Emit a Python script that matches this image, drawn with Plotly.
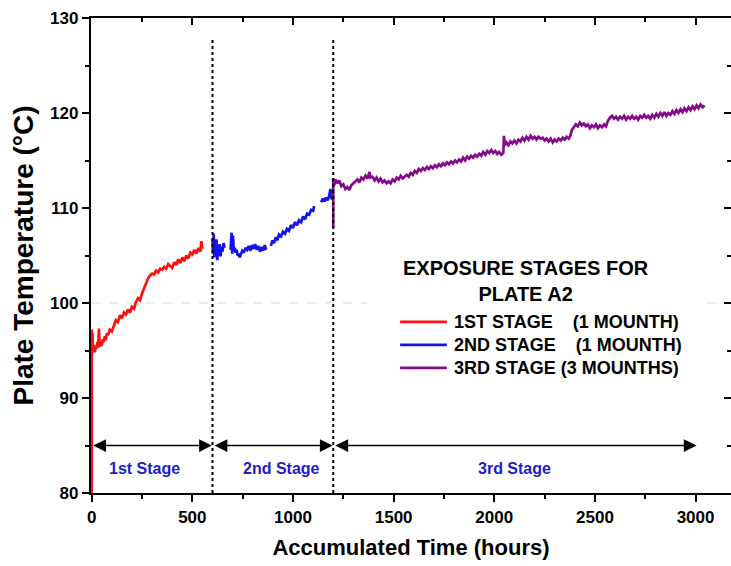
import plotly.graph_objects as go

# ---------------- data ----------------
stage1_hours = [0, 0, 2, 4, 6, 8, 10, 13, 16, 20, 24, 28, 32, 36, 40, 45, 50, 55, 60, 65,
                70, 75, 80, 90, 100, 110, 120, 130, 140, 150, 160, 170, 180, 190, 200, 210, 220, 230, 240, 250,
                260, 270, 280, 290, 300, 310, 320, 330, 340, 350, 360, 370, 380, 390, 400, 410, 420, 430, 440, 450,
                460, 470, 480, 490, 500, 510, 520, 530, 540, 545, 550]
stage1_temp = [80, 97.2, 94.6, 96.8, 94.9, 95.6, 95.1, 95.4, 94.8, 95.5, 95.2, 95.9, 95.3, 97.3, 95.4, 95.8, 95.5, 96.2, 95.9, 96.5,
               96.1, 96.8, 96.6, 97.2, 97.0, 97.6, 98.2, 98.0, 98.7, 98.4, 99.0, 98.8, 99.3, 99.0, 99.6, 99.4, 100.1, 100.5, 100.3, 101.0,
               101.6, 102.1, 102.6, 102.9, 103.1, 103.0, 103.4, 103.2, 103.6, 103.5, 103.8, 103.6, 104.1, 103.9, 103.7, 104.3, 104.0, 104.6, 104.2, 104.8,
               104.4, 105.0, 104.7, 105.3, 105.1, 105.6, 105.2, 105.8, 105.4, 106.5, 105.7]

stage2_hours = [600, 603, 606, 609, 612, 616, 620, 624, 628, 632, 636, 640, 645, 650, 655, 660, None,
                690, 695, 698, 702, 706, 710, 715, 720, 725, 730, 735, 740, 748, 756, 764, 772, 780, 788, 796,
                804, 812, 820, 828, 836, 844, 852, 860, 866, None,
                890, 898, 906, 914, 922, 930, 940, 950, 960, 970, 980, 990, 1000, 1010, 1020, 1030, 1040, 1050, 1060, 1070,
                1080, 1090, 1100, 1105, None,
                1140, 1148, 1156, 1164, 1172, 1180, 1186, 1192, 1198]
stage2_temp = [106.8, 105.2, 107.3, 104.8, 106.4, 105.0, 106.7, 104.5, 106.0, 105.3, 106.2, 104.9, 105.9, 105.4, 106.3, 105.8, None,
               105.6, 107.4, 105.2, 107.1, 105.5, 105.8, 105.3, 105.6, 105.0, 105.2, 104.8, 105.1, 105.5, 105.3, 105.8, 105.6, 106.0, 105.5, 106.1,
               105.7, 106.2, 105.6, 106.0, 105.4, 105.9, 105.5, 106.1, 105.6, None,
               106.0, 106.6, 106.3, 106.9, 106.6, 107.2, 107.0, 107.5, 107.3, 107.8, 107.6, 108.2, 107.9, 108.5, 108.2, 108.7, 108.5, 109.1, 108.8, 109.4,
               109.3, 109.8, 109.7, 110.2, None,
               110.6, 111.0, 110.7, 111.1, 110.8, 111.3, 112.0, 110.9, 111.4]

stage3_hours = [1200, 1200, 1205, 1212, 1220, 1230, 1240, 1250, 1260, 1270, 1280, 1290, 1300, 1310, 1320, 1330, 1340, 1350, 1360, 1370,
                1380, 1385, 1395, 1405, 1415, 1425, 1435, 1445, 1455, 1465, 1475, 1485, 1495, 1505, 1515, 1525, 1535, 1545, 1555, 1565,
                1575, 1585, 1595, 1605, 1615, 1625, 1635, 1645, 1655, 1665, 1675, 1685, 1695, 1705, 1715, 1725, 1735, 1745, 1755, 1765,
                1775, 1785, 1795, 1805, 1815, 1825, 1835, 1845, 1855, 1865, 1875, 1885, 1895, 1905, 1915, 1925, 1935, 1945, 1955, 1965,
                1975, 1985, 1995, 2005, 2015, 2025, 2035, 2045, 2048, 2052, 2060, 2070, 2080, 2090, 2100, 2110, 2120, 2130, 2140, 2150,
                2160, 2170, 2180, 2190, 2200, 2210, 2220, 2230, 2240, 2250, 2260, 2270, 2280, 2290, 2300, 2310, 2320, 2330, 2340, 2350,
                2360, 2370, 2378, 2385, 2395, 2405, 2415, 2425, 2435, 2445, 2455, 2465, 2475, 2485, 2495, 2505, 2515, 2525, 2535, 2545,
                2555, 2565, 2575, 2585, 2595, 2605, 2615, 2625, 2635, 2645, 2655, 2665, 2675, 2685, 2695, 2705, 2715, 2725, 2735, 2745,
                2755, 2765, 2775, 2785, 2795, 2805, 2815, 2825, 2835, 2845, 2855, 2865, 2875, 2885, 2895, 2905, 2915, 2925, 2935, 2945,
                2955, 2965, 2975, 2985, 2995, 3005, 3015, 3025, 3035, 3045]
stage3_temp = [107.9, 113.1, 112.4, 113.0, 112.6, 112.9, 112.3, 112.5, 112.0, 112.2, 111.9, 112.4, 112.6, 112.8, 113.0, 112.7, 113.2, 113.0, 113.4, 113.1,
               113.8, 113.2, 113.3, 112.9, 113.2, 112.8, 113.1, 112.7, 112.9, 112.6, 112.8, 112.6, 113.0, 112.8, 113.2, 113.0, 113.4, 113.1, 113.3, 113.5,
               113.3, 113.7, 113.5, 113.9, 113.7, 114.1, 113.9, 114.2, 114.0, 114.3, 114.1, 114.4, 114.2, 114.5, 114.3, 114.6, 114.4, 114.7, 114.5, 114.8,
               114.6, 114.9, 114.7, 115.0, 114.8, 115.1, 114.9, 115.3, 115.0, 115.4, 115.2, 115.5, 115.3, 115.6, 115.4, 115.7, 115.5, 115.9, 115.6, 116.0,
               115.8, 116.1, 115.8, 116.0, 115.7, 115.9, 115.6, 115.8, 117.6, 116.6, 116.9, 116.6, 117.0, 116.8, 117.1, 116.8, 117.2, 117.0, 117.4, 117.1,
               117.5, 117.2, 117.6, 117.3, 117.5, 117.2, 117.5, 117.3, 117.4, 117.1, 117.3, 117.0, 117.3, 116.9, 117.2, 117.0, 117.3, 117.1, 117.4, 117.2,
               117.5, 117.3, 117.6, 118.2, 118.5, 118.8, 118.6, 119.0, 118.7, 118.9, 118.6, 118.8, 118.4, 118.7, 118.5, 118.8, 118.4, 118.7, 118.5, 118.8,
               118.6, 119.2, 119.5, 119.7, 119.4, 119.6, 119.3, 119.6, 119.4, 119.7, 119.3, 119.6, 119.4, 119.7, 119.4, 119.6, 119.3, 119.7, 119.5, 119.8,
               119.5, 119.7, 119.4, 119.8, 119.5, 119.9, 119.6, 120.0, 119.7, 120.1, 119.7, 120.0, 119.8, 120.2, 119.9, 120.3, 120.0, 120.4, 120.1, 120.5,
               120.2, 120.6, 120.3, 120.7, 120.4, 120.8, 120.5, 120.9, 120.6, 120.8]

series_names = ["1ST STAGE\u00a0\u00a0\u00a0\u00a0(1 MOUNTH)",
                "2ND STAGE\u00a0\u00a0\u00a0\u00a0(1 MOUNTH)",
                "3RD STAGE (3 MOUNTHS)"]
series_colors = ["#ff1010", "#1414e6", "#840a8c"]
legend_title = "EXPOSURE STAGES FOR<br>PLATE A2"

stage_bounds = [0, 600, 1200, 3005]          # hours
stage_labels = ["1st Stage", "2nd Stage", "3rd Stage"]
stage_label_x = [262, 944, 2100]
arrow_level = 85
stage_label_level = 82.6
divider_top = 127.7
dashed_level = 100

x_ticks = [0, 500, 1000, 1500, 2000, 2500, 3000]
y_ticks = [80, 90, 100, 110, 120, 130]

# ---------------- figure ----------------
FONT = "Liberation Sans, Arial, sans-serif"
fig = go.Figure()

for hx, ty, name, col in zip([stage1_hours, stage2_hours, stage3_hours],
                             [stage1_temp, stage2_temp, stage3_temp],
                             series_names, series_colors):
    fig.add_trace(go.Scatter(x=hx, y=ty, mode="lines", name=name, showlegend=False,
                             line=dict(color=col, width=2.7), connectgaps=False))

# dummy trace to create mirror (top/right) axes with inward ticks
fig.add_trace(go.Scatter(x=[None], y=[None], xaxis="x2", yaxis="y2",
                         showlegend=False, hoverinfo="skip"))

# stage dividers
for b in stage_bounds[1:3]:
    fig.add_shape(type="line", x0=b, x1=b, y0=80, y1=divider_top, xref="x", yref="y",
                  line=dict(color="black", width=2, dash="dot"), layer="above")

# light dashed line at 100 (interrupted by the legend box)
for a, b in [(0, 0.431), (0.9625, 1)]:
    fig.add_shape(type="line", x0=a, x1=b, xref="paper", y0=dashed_level, y1=dashed_level, yref="y",
                  line=dict(color="#d8d8d8", width=1, dash="dash"), layer="below")

# double arrows and stage labels
for i in range(3):
    x0 = stage_bounds[i] + (3 if i > 0 else 0)
    x1 = stage_bounds[i + 1] - (3 if i < 2 else 0)
    fig.add_annotation(x=x1, y=arrow_level, ax=x0, ay=arrow_level, xref="x", yref="y",
                       axref="x", ayref="y", text="", showarrow=True,
                       arrowhead=2, arrowside="end+start", arrowsize=1.5, arrowwidth=1.7,
                       arrowcolor="black", standoff=0, startstandoff=0)
    fig.add_annotation(x=stage_label_x[i], y=stage_label_level, xref="x", yref="y",
                       text="<b>%s</b>" % stage_labels[i], showarrow=False,
                       font=dict(family=FONT, size=16, color="#1e1ec8"))

# legend (drawn manually so that its row spacing matches)
fig.add_annotation(x=0.680, y=0.446, xref="paper", yref="paper", xanchor="center", yanchor="middle",
                   text="<b>%s</b>" % legend_title, showarrow=False, align="center",
                   font=dict(family=FONT, size=20, color="black"))
row_y = [0.3604, 0.3120, 0.2636]
for name, col, ry in zip(series_names, series_colors, row_y):
    fig.add_shape(type="line", x0=0.483, x1=0.556, y0=ry, y1=ry, xref="paper", yref="paper",
                  line=dict(color=col, width=2.7))
    fig.add_annotation(x=0.564, y=ry, xref="paper", yref="paper", xanchor="left", yanchor="middle",
                       text="<b>%s</b>" % name, showarrow=False,
                       font=dict(family=FONT, size=18, color="black"))

axis_common = dict(showline=True, linecolor="black", linewidth=2.4, showgrid=False,
                   zeroline=False, mirror=False)

fig.update_layout(
    width=731, height=566,
    margin=dict(l=91, r=0, t=18, b=73),
    paper_bgcolor="white", plot_bgcolor="white",
    font=dict(family=FONT, color="black"),
    showlegend=False,
    xaxis=dict(range=[-3.5, 3176], tickvals=x_ticks, ticktext=["<b>%d</b>" % v for v in x_ticks],
               ticks="outside", ticklen=7, tickwidth=2, tickcolor="black",
               minor=dict(ticks="outside", ticklen=4, tickwidth=2, dtick=250, tick0=0, tickcolor="black"),
               tickfont=dict(family=FONT, size=17, color="black"),
               title=dict(text="<b>Accumulated Time (hours)</b>", font=dict(family=FONT, size=22),
                          standoff=14),
               **axis_common),
    yaxis=dict(range=[80, 130], tickvals=y_ticks, ticktext=["<b>%d</b>" % v for v in y_ticks],
               ticks="outside", ticklen=7, tickwidth=2, tickcolor="black",
               minor=dict(ticks="outside", ticklen=4, tickwidth=2, dtick=5, tick0=80, tickcolor="black"),
               tickfont=dict(family=FONT, size=17, color="black"),
               title=dict(text="<b>Plate Temperature (°C)</b>", font=dict(family=FONT, size=28),
                          standoff=8),
               **axis_common),
    xaxis2=dict(overlaying="x", side="top", anchor="y", range=[-3.5, 3176], tickvals=x_ticks,
                ticks="inside", ticklen=7, tickwidth=2, tickcolor="black", showticklabels=False,
                minor=dict(ticks="inside", ticklen=4, tickwidth=2, dtick=250, tick0=0, tickcolor="black"),
                **axis_common),
    yaxis2=dict(overlaying="y", side="right", anchor="x", range=[80, 130], tickvals=y_ticks,
                ticks="inside", ticklen=7, tickwidth=2, tickcolor="black", showticklabels=False,
                minor=dict(ticks="inside", ticklen=4, tickwidth=2, dtick=5, tick0=80, tickcolor="black"),
                showline=False, showgrid=False, zeroline=False),
)

fig.write_html("out.html")
